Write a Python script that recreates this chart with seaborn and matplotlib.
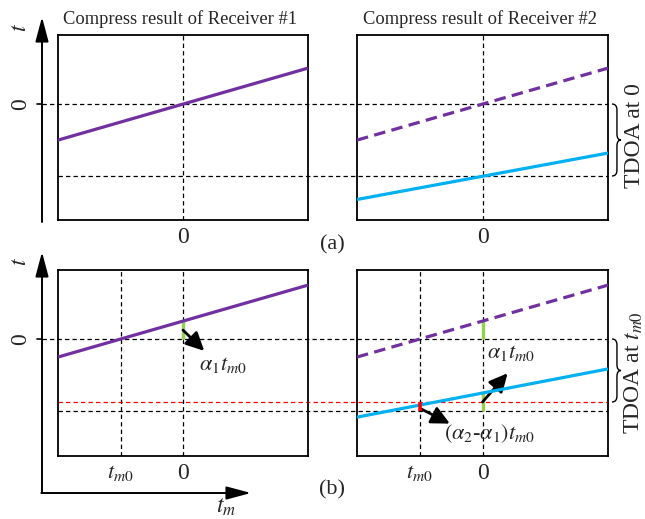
import matplotlib
matplotlib.use("Agg")
import numpy as np
import pandas as pd
import seaborn as sns
import matplotlib.pyplot as plt
from matplotlib.path import Path
from matplotlib.patches import PathPatch

sns.set_style("white")
plt.rcParams["font.family"] = ["Liberation Serif", "DejaVu Serif"]
plt.rcParams["mathtext.fontset"] = "stix"

# ---------------- data (normalised units) ----------------
tm = [-1.0, 1.0]                 # slow-time range of each panel
rx1_a = [-1.0, 1.0]              # receiver #1 trace, panel (a)
rx2_ref_a = [-1.0, 1.0]          # receiver #1 trace replicated (dashed), panel (a)
rx2_a = [-2.65, -1.36]           # receiver #2 trace, panel (a)
ref_levels_a = [0.0, -2.0]       # horizontal reference levels (a)

rx1_b = [-0.5, 1.5]              # receiver #1 trace, panel (b)
rx2_ref_b = [-0.5, 1.5]          # replicated trace, panel (b)
rx2_b = [-2.17, -0.83]           # receiver #2 trace, panel (b)
tm0 = -0.5
ref_levels_b = [0.0, -2.0]       # black reference levels (b)
red_level_b = -1.75              # red reference level (b)
a1_tm0 = 0.5                     # alpha1 * tm0 offset
diff_tm0 = 0.25                  # (alpha2-alpha1) * tm0 offset

PURPLE = "#7030A0"
BLUE = "#00B0F0"
GREEN = "#92D050"
RED = "#FF0000"

W, H = 645, 519
fig = plt.figure(figsize=(W / 100, H / 100), dpi=100)


def box(x0, y0, x1, y1):
    return [x0 / W, 1 - y1 / H, (x1 - x0) / W, (y1 - y0) / H]


axA1 = fig.add_axes(box(58, 35, 308, 220))
axA2 = fig.add_axes(box(357, 35, 608, 220))
axB1 = fig.add_axes(box(58, 270, 308, 456))
axB2 = fig.add_axes(box(357, 270, 608, 456))

DASH = (0, (3.5, 2.5))
LW = 2.3


def setup(ax, ylim, xt, xtl):
    ax.set_facecolor("none")
    ax.set_xlim(-1, 1)
    ax.set_ylim(*ylim)
    ax.set_xticks(xt)
    ax.set_xticklabels(xtl, fontsize=17)
    ax.set_yticks([])
    ax.tick_params(axis="x", length=0, pad=5)
    for s in ax.spines.values():
        s.set_color("black")
        s.set_linewidth(1.3)
    ax.set_xlabel("")
    ax.set_ylabel("")


def trace(ax, x, y, color, dashed=False, lw=LW, z=4):
    sns.lineplot(x=x, y=y, ax=ax, color=color, lw=lw, legend=False,
                 estimator=None, sort=False)
    ln = ax.get_lines()[-1]
    ln.set_solid_capstyle("butt")
    if dashed:
        ln.set_linestyle((0, (3.6, 2.0)))
    ln.set_zorder(z)


ylim_a = (-3.22, 1.92)
ylim_b = (-3.25, 1.92)

# ---------------- panel (a) ----------------
for ax in (axA1, axA2):
    ax.axvline(0, color="black", lw=0.9, ls=DASH, zorder=1)
axA1.axhline(ref_levels_a[0], xmin=-0.064, xmax=2.2, color="black", lw=0.9, ls=DASH, clip_on=False, zorder=1)
axA1.axhline(ref_levels_a[1], xmin=0.0, xmax=2.2, color="black", lw=0.9, ls=DASH, clip_on=False, zorder=1)
trace(axA1, tm, rx1_a, PURPLE)
trace(axA2, tm, rx2_ref_a, PURPLE, dashed=True)
trace(axA2, tm, rx2_a, BLUE)
setup(axA1, ylim_a, [0], ["0"])
setup(axA2, ylim_a, [0], ["0"])

# ---------------- panel (b) ----------------
for ax in (axB1, axB2):
    ax.axvline(0, color="black", lw=0.9, ls=DASH, zorder=1)
    ax.axvline(tm0, color="black", lw=0.9, ls=DASH, zorder=1)
axB1.axhline(ref_levels_b[0], xmin=-0.064, xmax=2.2, color="black", lw=0.9, ls=DASH, clip_on=False, zorder=1)
axB1.axhline(ref_levels_b[1], xmin=0.0, xmax=2.2, color="black", lw=0.9, ls=DASH, clip_on=False, zorder=1)
axB1.axhline(red_level_b, xmin=0.0, xmax=2.2, color=RED, lw=0.9, ls=DASH, clip_on=False, zorder=1)
trace(axB1, tm, rx1_b, PURPLE)
trace(axB2, tm, rx2_ref_b, PURPLE, dashed=True)
trace(axB2, tm, rx2_b, BLUE)

# offset markers
trace(axB1, [0, 0], [0, a1_tm0], GREEN, lw=2.4, z=3)
trace(axB2, [0, 0], [0, a1_tm0], GREEN, lw=2.4, z=3)
trace(axB2, [0, 0], [ref_levels_b[1], ref_levels_b[1] + a1_tm0], GREEN, lw=2.4, z=3)
trace(axB2, [tm0, tm0], [ref_levels_b[1], ref_levels_b[1] + diff_tm0], RED, lw=2.6, z=5)
setup(axB1, ylim_b, [tm0, 0], [r"$t_{m0}$", "0"])
setup(axB2, ylim_b, [tm0, 0], [r"$t_{m0}$", "0"])
for ax in (axB1, axB2):
    ax.get_xticklabels()[0].set_fontsize(16)

ARW = dict(arrowstyle="-|>,head_length=0.65,head_width=0.32", mutation_scale=17,
           lw=2.0, color="black", shrinkA=0, shrinkB=0)
axB1.annotate("", xy=(0.17, -0.33), xytext=(0.0, 0.25), arrowprops=ARW)
axB1.text(0.32, -0.72, r"$\alpha_1 t_{m0}$", fontsize=16, ha="center", va="center")
axB2.annotate("", xy=(0.2, -0.95), xytext=(0.0, -1.75), arrowprops=ARW)
axB2.text(0.23, -0.39, r"$\alpha_1 t_{m0}$", fontsize=16, ha="center", va="center")
axB2.annotate("", xy=(-0.26, -2.35), xytext=(-0.49, -1.94), arrowprops=ARW)
axB2.text(0.06, -2.62, r"$(\alpha_2$-$\alpha_1)t_{m0}$", fontsize=16, ha="center", va="center")

# ---------------- overlay decorations (pixel coords) ----------------
ov = fig.add_axes([0, 0, 1, 1], zorder=10)
ov.set_xlim(0, W)
ov.set_ylim(H, 0)
ov.axis("off")
ov.set_facecolor("none")

AX = dict(arrowstyle="-|>,head_length=0.75,head_width=0.2", mutation_scale=20,
          lw=1.4, color="black", shrinkA=0, shrinkB=0)
ov.annotate("", xy=(42, 17), xytext=(42, 222), arrowprops=AX)
ov.plot([37, 42], [104, 104], color="black", lw=1.2)
ov.annotate("", xy=(42, 252), xytext=(42, 493), arrowprops=AX)
ov.annotate("", xy=(251, 493), xytext=(41.3, 493), arrowprops=AX)
ov.plot([37, 42], [339, 339], color="black", lw=1.2)

ov.text(21, 28, r"$t$", fontsize=17, rotation=90, ha="center", va="center")
ov.text(21, 104, "0", fontsize=17, rotation=90, ha="center", va="center")
ov.text(21, 262, r"$t$", fontsize=17, rotation=90, ha="center", va="center")
ov.text(21, 339, "0", fontsize=17, rotation=90, ha="center", va="center")
ov.text(226, 507, r"$t_m$", fontsize=17, ha="center", va="center")

ov.text(180, 19, "Compress result of Receiver #1", fontsize=13.3, ha="center", va="center")
ov.text(480, 19, "Compress result of Receiver #2", fontsize=13.3, ha="center", va="center")
ov.text(332, 245, "(a)", fontsize=16, ha="center", va="center")
ov.text(332, 490, "(b)", fontsize=16, ha="center", va="center")


def brace(x0, y0, y1, w=9):
    ym = (y0 + y1) / 2
    xm = x0 + w * 0.55
    r = 6
    verts = [(x0, y0), (xm, y0), (xm, y0 + r),
             (xm, ym - r), (xm, ym), (x0 + w, ym),
             (xm, ym), (xm, ym + r),
             (xm, y1 - r), (xm, y1), (x0, y1)]
    codes = [Path.MOVETO, Path.CURVE3, Path.CURVE3,
             Path.LINETO, Path.CURVE3, Path.CURVE3,
             Path.CURVE3, Path.CURVE3,
             Path.LINETO, Path.CURVE3, Path.CURVE3]
    ov.add_patch(PathPatch(Path(verts, codes), fill=False, lw=1.0, ec="black"))


brace(612, 104, 176)
brace(612, 339, 402)
ov.text(634, 136, "TDOA at 0", fontsize=17, rotation=90, ha="center", va="center")
ov.text(634, 373, r"TDOA at $t_{m0}$", fontsize=17, rotation=90, ha="center", va="center")

fig.savefig("out.png", dpi=100)
